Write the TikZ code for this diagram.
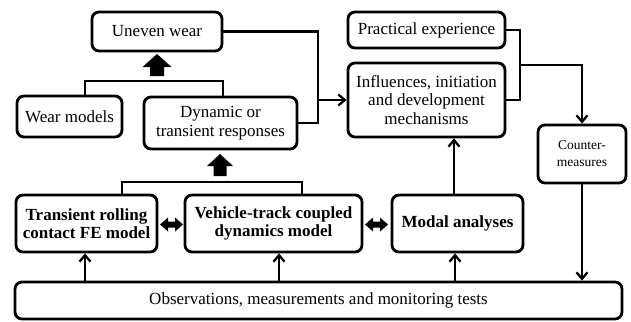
\documentclass[tikz,border=0pt]{standalone}
\usepackage{fontspec}
\setmainfont{Liberation Serif}
\usetikzlibrary{arrows.meta,calc}
\begin{document}
\begin{tikzpicture}[x=1pt,y=-1pt,
  box/.style={draw,line width=2.8pt,rounded corners=7pt,inner sep=0pt,align=center,
    font=\fontsize{17}{18.5}\selectfont},
  bbox/.style={box,font=\fontsize{17}{18.5}\selectfont\bfseries},
  conn/.style={line width=2.3pt},
  arr/.style={conn,-{Straight Barb[length=6.5pt,width=11pt,line width=2.3pt]}},
  blk/.style={fill=black,draw=none}]
\useasboundingbox (0,0) rectangle (631,321);
% nodes
\node[box,minimum width=130,minimum height=39] (uneven) at (157,31.5) {Uneven wear};
\node[box,minimum width=105,minimum height=41] (wear) at (69.5,116.5) {Wear models};
\node[box,minimum width=153,minimum height=52] (dyn) at (220.5,123) {Dynamic or\\transient responses};
\node[box,minimum width=157,minimum height=36] (pract) at (426.5,30) {Practical experience};
\node[box,minimum width=157,minimum height=74] (infl) at (426.5,100) {Influences, initiation\\and development\\mechanisms};
\node[box,minimum width=88,minimum height=58,font=\fontsize{13.5}{17}\selectfont] (counter) at (582,154) {Counter-\\measures};
\node[bbox,minimum width=141,minimum height=57] (trans) at (86.5,223.5) {Transient rolling\\contact FE model};
\node[bbox,minimum width=177,minimum height=57] (veh) at (273.5,223.5) {Vehicle-track coupled\\dynamics model};
\node[bbox,minimum width=131,minimum height=57] (modal) at (457.5,223.5) {Modal analyses};
\node[box,minimum width=607,minimum height=37] (obs) at (318.5,300.5) {Observations, measurements and monitoring tests};
% helper coordinates
\coordinate (bx1) at (318,0);
\coordinate (bx2) at (520,65);
\coordinate (wx) at (85,81);
\coordinate (dx) at (223,81);
\coordinate (tx) at (122,182);
\coordinate (vx) at (302,182);
\coordinate (ox1) at (85,0);
\coordinate (ox2) at (279,0);
\coordinate (ox3) at (455,0);
\coordinate (mx) at (454,0);
% brackets
\draw[conn] (wear.north -| wx) -- (wx) -- (dx) -- (dyn.north -| dx);
\draw[conn] (trans.north -| tx) -- (tx) -- (vx) -- (veh.north -| vx);
\draw[conn] (uneven.east) -- (uneven.east -| bx1) -- (dyn.east -| bx1) -- (dyn.east);
\draw[arr] (infl.west -| bx1) -- (infl.west);
\draw[conn] (pract.east) -- (pract.east -| bx2) -- (infl.east -| bx2) -- (infl.east);
\draw[arr] (bx2) -- (bx2 -| counter.north) -- (counter.north);
\draw[arr] (counter.south) -- (obs.north -| counter.south);
\draw[arr] (modal.north -| mx) -- (infl.south -| mx);
\draw[arr] (obs.north -| ox1) -- (trans.south -| ox1);
\draw[arr] (obs.north -| ox2) -- (veh.south -| ox2);
\draw[arr] (obs.north -| ox3) -- (modal.south -| ox3);
% block arrows
\fill[blk] (157,54) -- (171.5,67) -- (164,67) -- (164,76) -- (150,76) -- (150,67) -- (142.5,67) -- cycle;
\fill[blk] (220,154) -- (233,166) -- (226.5,166) -- (226.5,176) -- (213.5,176) -- (213.5,166) -- (207,166) -- cycle;
\fill[blk] (160,224.5) -- (168,217.5) -- (168,221.5) -- (175,221.5) -- (175,217.5) -- (183,224.5) -- (175,231.5) -- (175,227.5) -- (168,227.5) -- (168,231.5) -- cycle;
\fill[blk] (365,224.5) -- (373,217.5) -- (373,221.5) -- (380,221.5) -- (380,217.5) -- (388,224.5) -- (380,231.5) -- (380,227.5) -- (373,227.5) -- (373,231.5) -- cycle;
\end{tikzpicture}
\end{document}
